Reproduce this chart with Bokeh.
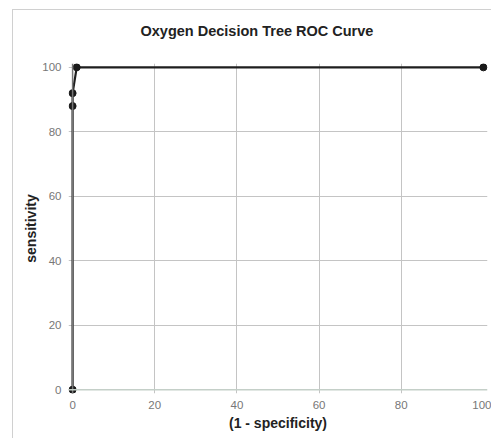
from bokeh.plotting import figure
from bokeh.models import Range1d, Span, FixedTicker
from bokeh.embed import file_html
from bokeh.resources import INLINE

# Data
fpr = [0, 0, 0, 1, 100]          # (1 - specificity)
tpr = [0, 88, 92, 100, 100]      # sensitivity
x_ticks = [0, 20, 40, 60, 80, 100]
y_ticks = [0, 20, 40, 60, 80, 100]

title_text = "Oxygen Decision Tree ROC Curve"
x_label = "(1 - specificity)"
y_label = "sensitivity"

p = figure(width=479, height=429, output_backend="svg", toolbar_location=None,
           x_range=Range1d(-1, 101), y_range=Range1d(-1.2, 101.2),
           min_border_left=55, min_border_right=5, min_border_top=53, min_border_bottom=46,
           title=title_text + "\n ",
           styles={"margin-left": "12px", "margin-top": "9px",
                   "border-left": "1px solid #d0d0d0", "border-top": "1px solid #d0d0d0"})

p.title.text_font = "Liberation Sans"
p.title.text_font_style = "bold"
p.title.text_font_size = "14.5px"
p.title.text_color = "#222222"
p.title.align = "left"
p.title.offset = 72
p.title.standoff = 18

p.outline_line_color = None
p.background_fill_color = "white"
p.border_fill_color = "white"

for ax in (p.xaxis[0], p.yaxis[0]):
    ax.axis_line_color = None
    ax.major_tick_line_color = None
    ax.minor_tick_line_color = None
    ax.major_label_text_font = "Liberation Sans"
    ax.major_label_text_font_size = "11.5px"
    ax.major_label_text_color = "#777777"
    ax.axis_label_text_font = "Liberation Sans"
    ax.axis_label_text_font_style = "bold"
    ax.axis_label_text_font_size = "14px"
    ax.axis_label_text_color = "#222222"

p.xaxis[0].ticker = FixedTicker(ticks=x_ticks)
p.yaxis[0].ticker = FixedTicker(ticks=y_ticks)
p.xaxis[0].axis_label = x_label
p.yaxis[0].axis_label = y_label
p.xaxis[0].major_tick_out = 0
p.xaxis[0].major_tick_in = 0
p.xaxis[0].major_label_standoff = 7
p.yaxis[0].major_label_standoff = 1
p.xaxis[0].axis_label_standoff = 3
p.yaxis[0].axis_label_standoff = 0

p.xgrid[0].ticker = FixedTicker(ticks=[20, 40, 60, 80])
p.ygrid[0].ticker = FixedTicker(ticks=[20, 40, 60, 80, 100])
p.xgrid[0].grid_line_color = "#c4c4c4"
p.ygrid[0].grid_line_color = "#c4c4c4"

p.add_layout(Span(location=0, dimension="height", line_color="#777777", line_width=1.5))
p.add_layout(Span(location=0, dimension="width", line_color="#c4cfc8", line_width=1.5))

p.line(fpr, tpr, line_color="#1e1e1e", line_width=2.2)
p.scatter(fpr, tpr, size=7, fill_color="#1a1a1a", line_color="#1a1a1a")

open("out.html", "w").write(file_html(p, INLINE))
